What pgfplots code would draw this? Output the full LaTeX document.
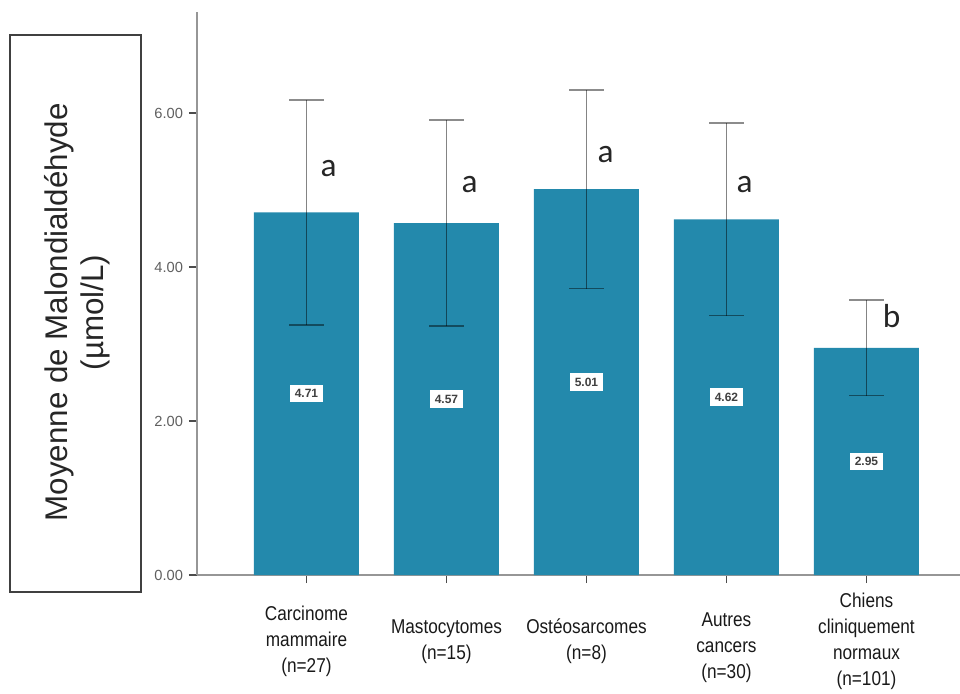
\documentclass[border=0pt]{standalone}
\usepackage{pgfplots}
\pgfplotsset{compat=1.18}
\usepackage{fontspec}
\setmainfont{Liberation Sans}
\newfontfamily\narrowfont{Liberation Sans}[FakeStretch=0.86]
\newfontfamily\calib{Carlito}
\definecolor{barblue}{RGB}{35,137,172}
\definecolor{axgray}{RGB}{150,150,150}
\definecolor{tickgray}{RGB}{95,95,95}

\pgfplotstableread{
x y e
0 4.71 1.46
1 4.57 1.34
2 5.01 1.29
3 4.62 1.25
4 2.95 0.62
}\mdatable

\begin{document}
\begin{tikzpicture}
\useasboundingbox (-147.75pt,-88.5pt) rectangle (572.25pt,431.25pt);
\begin{axis}[
  at={(0,0)}, anchor=south west,
  x=105pt, y=57.75pt,
  xmin=-0.782, xmax=4.668, ymin=0, ymax=7.31,
  clip=false,
  axis x line*=bottom, axis y line*=left,
  axis line style={-, axgray, line width=1.3pt},
  tick align=outside,
  major tick length=6pt,
  tick style={black!70, line width=0.9pt},
  ytick={0,2,4,6},
  xtick={0,1,2,3,4},
  /pgf/number format/assume math mode=true,
  yticklabel style={/pgf/number format/.cd, fixed, fixed zerofill, precision=2, /tikz/.cd,
     font=\fontsize{11}{13}\selectfont, text=tickgray, xshift=-1pt},
  xticklabels={Carcinome\\mammaire\\(n=27),
               Mastocytomes\\(n=15),
               Ostéosarcomes\\(n=8),
               \mbox{}\\Autres\\cancers\\(n=30),
               Chiens\\cliniquement\\normaux\\(n=101)},
  xticklabel style={font=\narrowfont\fontsize{15}{19.5}\selectfont, align=center,
     anchor=center, yshift=-44pt, text=black!90},
]
\addplot[ybar, fill=barblue, draw=none, bar width=78.75pt,
  error bars/.cd, y dir=both, y explicit,
  error bar style={black, opacity=0.45, line width=1.3pt},
  error mark options={black, opacity=0.45, line width=1.3pt, mark size=13pt, rotate=90}]
  table[x=x, y=y, y error=e] {\mdatable};

\foreach \i/\v in {0/4.71, 1/4.57, 2/5.01, 3/4.62, 4/2.95} {
  \edef\tmp{\noexpand\node[fill=white, inner xsep=3.5pt, inner ysep=0pt, minimum height=13pt,
     font=\noexpand\fontsize{9}{10}\noexpand\selectfont\noexpand\bfseries, text=black!75]
     at (axis cs:\i,\v/2) {\v};}
  \tmp
}
\node[font=\calib\fontsize{25}{28}\selectfont, anchor=base, text=black!85] at (axis cs:0.158,5.17) {a};
\node[font=\calib\fontsize{25}{28}\selectfont, anchor=base, text=black!85] at (axis cs:1.165,4.97) {a};
\node[font=\calib\fontsize{25}{28}\selectfont, anchor=base, text=black!85] at (axis cs:2.136,5.36) {a};
\node[font=\calib\fontsize{25}{28}\selectfont, anchor=base, text=black!85] at (axis cs:3.13,4.97) {a};
\node[font=\calib\fontsize{25}{28}\selectfont, anchor=base, text=black!85] at (axis cs:4.18,3.22) {b};
\end{axis}
\draw[black!75, line width=1.1pt] (-140.25pt,-12.75pt) rectangle (-42pt,405pt);
\node[rotate=90, align=center, font=\fontsize{23.5}{27}\selectfont, text=black!85] at (-90pt,197pt)
  {Moyenne de Malondialdéhyde\\(µmol/L)};
\end{tikzpicture}
\end{document}
